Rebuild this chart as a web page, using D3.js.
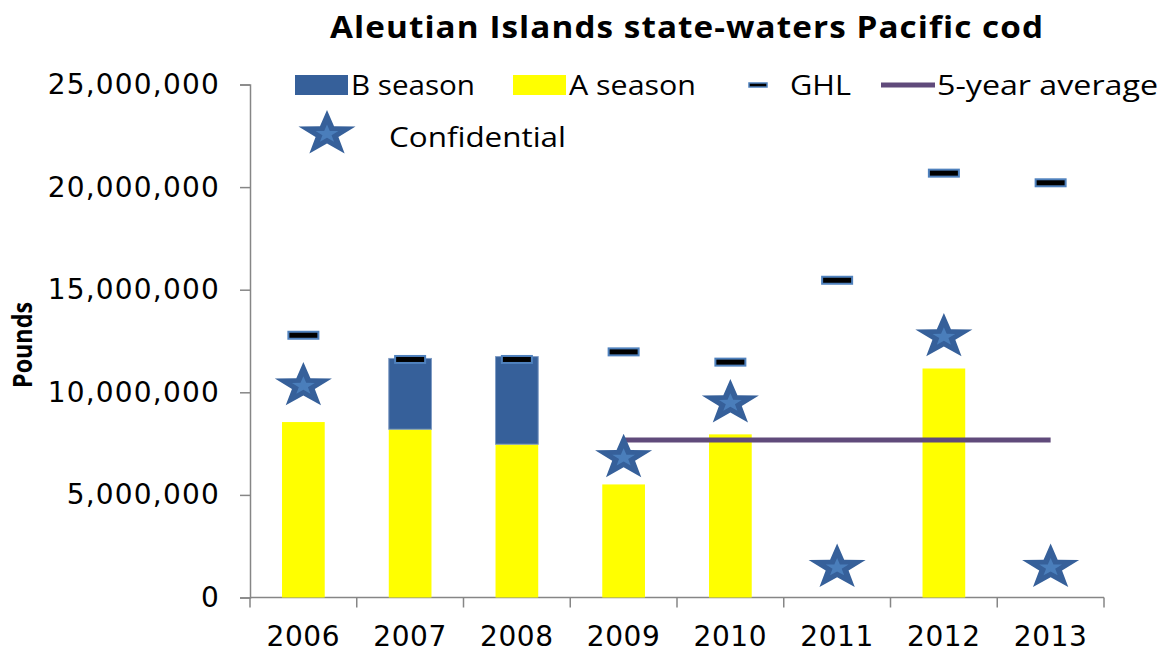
<!DOCTYPE html>
<html>
<head>
<meta charset="utf-8">
<script src="https://cdn.jsdelivr.net/npm/d3@7"></script>
<style>
  body { margin: 0; background: #fff; }
  svg { display: block; }
</style>
</head>
<body>
<svg id="chart" width="1164" height="653"></svg>
<script>
// chart data
const years = ['2006', '2007', '2008', '2009', '2010', '2011', '2012', '2013'];
const aSeason = [8550000, 8200000, 7470000, 5510000, 7950000, null, 11160000, null];
const bSeason = [0, 3450000, 4270000, 0, 0, null, 0, null];
const ghl = [12780000, 11600000, 11600000, 11970000, 11470000, 15460000, 20680000, 20210000];
const confidential = [10310000, null, null, 6810000, 9480000, 1460000, 12700000, 1460000];
const avgYears = ['2009', '2013'];
const avgValue = 7670000;
const yTicks = [0, 5000000, 10000000, 15000000, 20000000, 25000000];

const svg = d3.select('#chart');
const margin = { top: 84.5, left: 250, right: 60, bottom: 55.5 };
const width = 1164 - margin.left - margin.right;
const height = 653 - margin.top - margin.bottom;

const blue = '#36609A';
const yellow = '#FFFF00';
const axisGray = '#868686';
const tickFont = '"DejaVu Sans", Verdana, sans-serif';
const labelFont = '"Open Sans", Lato, sans-serif';

const x = d3.scaleBand().domain(years).range([0, width]).paddingInner(0.6).paddingOuter(0.3);
const xEdge = d3.scaleBand().domain(years).range([0, width]).padding(0);
const y = d3.scaleLinear().domain([0, 25000000]).range([height, 0]);

const g = svg.append('g').attr('transform', `translate(${margin.left},${margin.top})`);

// title
svg.append('text')
  .attr('x', 330).attr('y', 38)
  .attr('textLength', 714).attr('lengthAdjust', 'spacingAndGlyphs')
  .style('font-family', labelFont)
  .style('font-weight', 'bold')
  .style('font-size', '31px')
  .style('letter-spacing', '1px')
  .text('Aleutian Islands state-waters Pacific cod');

// y label
svg.append('text')
  .attr('transform', 'translate(32,388) rotate(-90)')
  .attr('textLength', 86).attr('lengthAdjust', 'spacingAndGlyphs')
  .style('font-family', labelFont)
  .style('font-weight', 'bold')
  .style('font-size', '26px')
  .text('Pounds');

// y axis
const yAxis = g.append('g')
  .call(d3.axisLeft(y).tickValues(yTicks).tickSize(10).tickPadding(20).tickFormat(d3.format(',')));
yAxis.select('.domain').attr('stroke', axisGray).attr('stroke-width', 1.5);
yAxis.selectAll('.tick line').attr('stroke', axisGray).attr('stroke-width', 1.5);
yAxis.selectAll('text')
  .style('font-family', tickFont)
  .style('font-size', '28px')
  .style('letter-spacing', '1.2px')
  .attr('fill', '#000');

// x axis, ticks sit on the band edges
const xAxis = g.append('g').attr('transform', `translate(0,${height})`);
xAxis.append('line').attr('x1', 0).attr('x2', width).attr('stroke', axisGray).attr('stroke-width', 1.5);
xAxis.selectAll('.xt')
  .data(years.map(d => xEdge(d)).concat([width]))
  .enter().append('line')
  .attr('x1', d => d).attr('x2', d => d)
  .attr('y1', 0).attr('y2', 10)
  .attr('stroke', axisGray).attr('stroke-width', 1.5);
xAxis.selectAll('.xl')
  .data(years)
  .enter().append('text')
  .attr('x', d => x(d) + x.bandwidth() / 2)
  .attr('y', 48.5)
  .attr('text-anchor', 'middle')
  .style('font-family', tickFont)
  .style('font-size', '28px')
  .style('letter-spacing', '0.6px')
  .text(d => d);

// stacked bars
const rows = years.map((yr, i) => ({ yr, a: aSeason[i], b: bSeason[i] })).filter(d => d.a != null);

g.selectAll('.barA')
  .data(rows)
  .enter().append('rect')
  .attr('x', d => x(d.yr))
  .attr('width', x.bandwidth())
  .attr('y', d => y(d.a))
  .attr('height', d => y(0) - y(d.a))
  .attr('fill', yellow);

g.selectAll('.barB')
  .data(rows.filter(d => d.b > 0))
  .enter().append('rect')
  .attr('x', d => x(d.yr))
  .attr('width', x.bandwidth())
  .attr('y', d => y(d.a + d.b))
  .attr('height', d => y(d.a) - y(d.a + d.b))
  .attr('fill', blue)
  .attr('stroke', '#7F9CC4')
  .attr('stroke-width', 1);

// 5-year average
g.append('line')
  .attr('x1', x(avgYears[0]) + x.bandwidth() / 2)
  .attr('x2', x(avgYears[1]) + x.bandwidth() / 2)
  .attr('y1', y(avgValue)).attr('y2', y(avgValue))
  .attr('stroke', '#604A7B').attr('stroke-width', 5);

// GHL markers
function ghlMark(sel, cx, cy) {
  sel.append('rect')
    .attr('x', cx - 15).attr('y', cy - 3.5)
    .attr('width', 30).attr('height', 7)
    .attr('fill', '#000')
    .attr('stroke', '#4F81BD').attr('stroke-width', 2);
}
years.forEach((yr, i) => {
  ghlMark(g, x(yr) + x.bandwidth() / 2, y(ghl[i]));
});

// stars
function starPath(r, sy) {
  const pts = [];
  for (let k = 0; k < 10; k++) {
    const rad = k % 2 === 0 ? r : r * 0.4;
    const ang = -Math.PI / 2 + k * Math.PI / 5;
    pts.push([rad * Math.cos(ang), rad * Math.sin(ang) * sy]);
  }
  return 'M' + pts.map(p => p.join(',')).join('L') + 'Z';
}
function star(sel, cx, cy) {
  const s = sel.append('g').attr('transform', `translate(${cx},${cy})`);
  s.append('path').attr('d', starPath(30, 0.8)).attr('fill', blue);
  s.append('path').attr('d', starPath(12, 0.8)).attr('fill', '#4A7EBB');
}
years.forEach((yr, i) => {
  if (confidential[i] != null) star(g, x(yr) + x.bandwidth() / 2, y(confidential[i]));
});

// legend
const leg = svg.append('g').style('font-family', labelFont).style('font-size', '27px');
function legText(tx, ty, len, label) {
  leg.append('text').attr('x', tx).attr('y', ty)
    .attr('textLength', len).attr('lengthAdjust', 'spacingAndGlyphs')
    .text(label);
}
leg.append('rect').attr('x', 295).attr('y', 75).attr('width', 53).attr('height', 20).attr('fill', blue);
legText(351, 95, 124, 'B season');
leg.append('rect').attr('x', 513).attr('y', 75).attr('width', 53).attr('height', 20).attr('fill', yellow);
legText(569, 95, 127, 'A season');
leg.append('rect').attr('x', 749).attr('y', 83).attr('width', 18).attr('height', 4)
  .attr('fill', '#000').attr('stroke', '#4F81BD').attr('stroke-width', 1.5);
legText(790, 95, 61, 'GHL');
leg.append('line').attr('x1', 881).attr('x2', 935).attr('y1', 85).attr('y2', 85)
  .attr('stroke', '#604A7B').attr('stroke-width', 5);
legText(937, 95, 221, '5-year average');
star(leg, 327, 134);
legText(389, 147, 177, 'Confidential');
</script>
</body>
</html>
